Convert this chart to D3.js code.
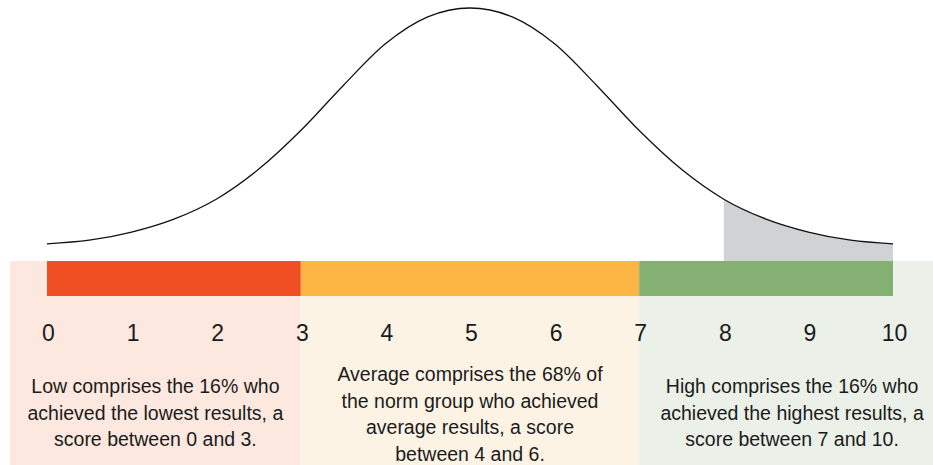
<!DOCTYPE html>
<html lang="en">
<head>
    <meta charset="UTF-8">
    <title>Score bands</title>
    <script src="https://d3js.org/d3.v7.min.js"></script>
    <style>
        body { margin: 0; background: #fff; }
        text { font-family: 'Liberation Sans', Arial, sans-serif; fill: #1b1b1b; }
    </style>
</head>
<body>
<script>
    const width  = 933;
    const height = 465;

    // score axis
    const ticks = [0, 1, 2, 3, 4, 5, 6, 7, 8, 9, 10];

    // bell curve (score, height)
    const curveScore = [0, 0.5, 1, 1.5, 2, 2.5, 3, 3.5, 4, 4.5, 5,
                        5.5, 6, 6.5, 7, 7.5, 8, 8.5, 9, 9.5, 10];
    const curveValue = [0.0022, 0.0058, 0.014, 0.027, 0.047, 0.077, 0.116, 0.161, 0.203, 0.230, 0.239,
                        0.230, 0.203, 0.161, 0.116, 0.077, 0.047, 0.027, 0.014, 0.0058, 0.0022];
    const shadeFrom = 8;

    // bands
    const bandNames = ['Low', 'Average', 'High'];
    const bandFrom  = [0, 3, 7];
    const bandTo    = [3, 7, 10];
    const bandText  = [
        ['Low comprises the 16% who', 'achieved the lowest results, a', 'score between 0 and 3.'],
        ['Average comprises the 68% of', 'the norm group who achieved', 'average results, a score', 'between 4 and 6.'],
        ['High comprises the 16% who', 'achieved the highest results, a', 'score between 7 and 10.']
    ];

    const barColor   = ['#f04e23', '#fdb643', '#84b074'];
    const panelColor = ['#fce8de', '#fdf3e5', '#ebf0e8'];

    const barTop = 261, barH = 35;
    const textTop = [393, 381, 393];
    const lineH = 26.6;

    const x = d3.scaleLinear().domain([0, 10]).range([47, 893]);
    const y = d3.scaleLinear().domain([0, 0.24]).range([246, 7]);

    const svg = d3.select("body").append("svg").attr("width", width).attr("height", height);

    const pts = curveScore.map((s, i) => [s, curveValue[i]]);

    // background panels, running past the bar on both sides
    const panelX0 = i => i === 0 ? x(0) - 37 : x(bandFrom[i]);
    const panelX1 = i => i === bandNames.length - 1 ? x(10) + 52 : x(bandTo[i]);

    svg.selectAll(".panel")
        .data(bandNames)
        .enter().append("rect").attr("class", "panel")
        .attr("x", (d, i) => panelX0(i))
        .attr("y", barTop)
        .attr("width", (d, i) => panelX1(i) - panelX0(i))
        .attr("height", height - barTop)
        .attr("fill", (d, i) => panelColor[i]);

    // shaded tail
    const area = d3.area()
        .x(d => x(d[0]))
        .y0(barTop)
        .y1(d => y(d[1]))
        .curve(d3.curveMonotoneX);

    svg.append("path")
        .attr("d", area(pts.filter(d => d[0] >= shadeFrom)))
        .attr("fill", "#d1d2d4");

    const line = d3.line()
        .x(d => x(d[0]))
        .y(d => y(d[1]))
        .curve(d3.curveMonotoneX);

    svg.append("path")
        .attr("d", line(pts))
        .attr("fill", "none")
        .attr("stroke", "#111")
        .attr("stroke-width", 1.3);

    // coloured bar
    svg.selectAll(".band")
        .data(bandNames)
        .enter().append("rect").attr("class", "band")
        .attr("x", (d, i) => x(bandFrom[i]))
        .attr("y", barTop)
        .attr("width", (d, i) => x(bandTo[i]) - x(bandFrom[i]))
        .attr("height", barH)
        .attr("fill", (d, i) => barColor[i]);

    svg.selectAll(".tick")
        .data(ticks)
        .enter().append("text").attr("class", "tick")
        .attr("x", d => x(d) + 1.5)
        .attr("y", 341)
        .attr("text-anchor", "middle")
        .style("font-size", "23px")
        .text(d => d);

    bandText.forEach((lines, i) => {
        const cx = (panelX0(i) + panelX1(i)) / 2;
        svg.append("g").selectAll("text")
            .data(lines)
            .enter().append("text")
            .attr("x", cx)
            .attr("y", (d, j) => textTop[i] + j * lineH)
            .attr("text-anchor", "middle")
            .style("font-size", "19.5px")
            .text(d => d);
    });
</script>
</body>
</html>
